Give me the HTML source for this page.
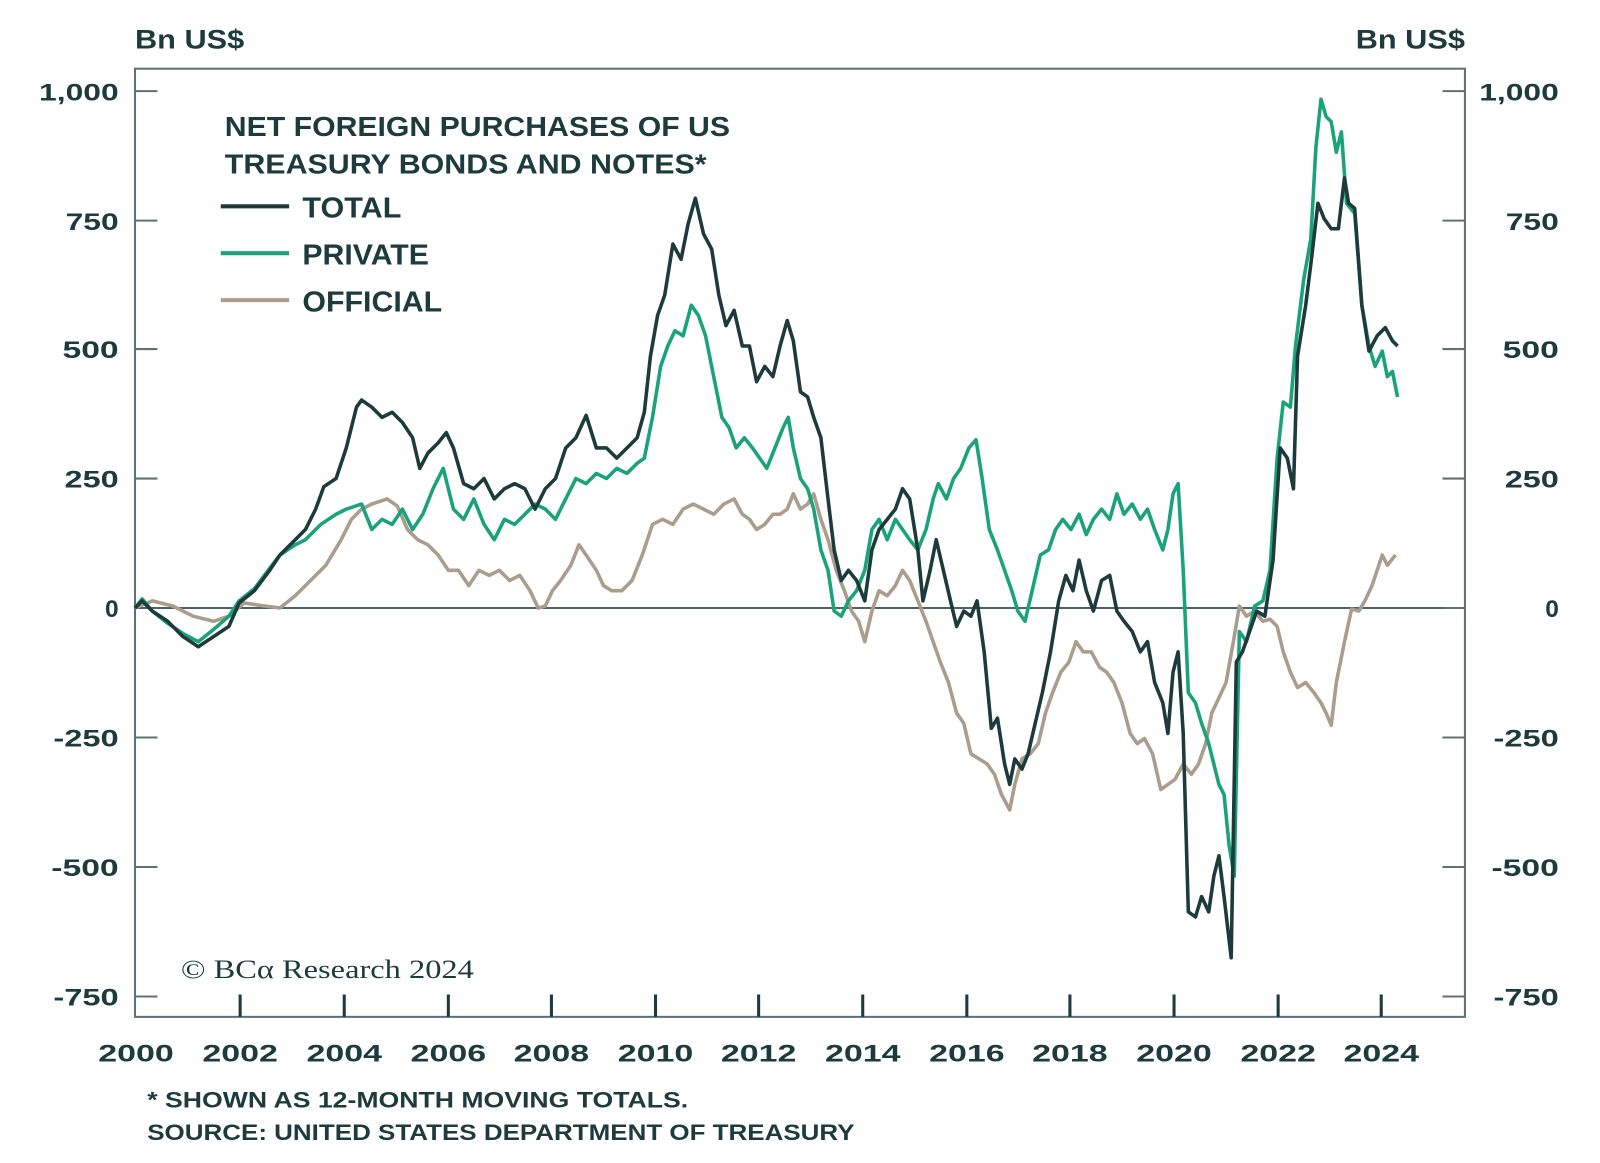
<!DOCTYPE html>
<html><head><meta charset="utf-8"><style>
html,body{margin:0;padding:0;background:#fff;width:1600px;height:1163px;overflow:hidden;}
svg{display:block;}
text{font-family:"Liberation Sans","DejaVu Sans",sans-serif;fill:#1d3b3d;font-weight:bold;}
</style></head><body>
<svg width="1600" height="1163" viewBox="0.74 0.63 1567.6 1140.7" preserveAspectRatio="none" xmlns="http://www.w3.org/2000/svg">
<rect x="0" y="0" width="1600" height="1163" fill="#fff"/>
<text x="133" y="48" font-size="26" textLength="107" lengthAdjust="spacingAndGlyphs">Bn US$</text>
<text x="1329" y="48" font-size="26" textLength="107" lengthAdjust="spacingAndGlyphs">Bn US$</text>
<g stroke="#5d7373" stroke-width="2" fill="none">
<rect x="133" y="68" width="1303" height="930"/>
<line x1="133" y1="597" x2="1436" y2="597" stroke="#4a6364"/>
<path d="M133 90h22M133 217h22M133 343h22M133 470h22M133 724h22M133 851h22M133 978h22M1436 90h-22M1436 217h-22M1436 343h-22M1436 470h-22M1436 597h-22M1436 724h-22M1436 851h-22M1436 978h-22"/>
<path stroke="#1d3b3d" stroke-width="3" d="M236 998v-22M338 998v-22M440 998v-22M541 998v-22M643 998v-22M744 998v-22M846 998v-22M948 998v-22M1049 998v-22M1151 998v-22M1253 998v-22M1354 998v-22"/>
</g>
<g font-size="24" text-anchor="end">
<text x="117" y="99" textLength="78" lengthAdjust="spacingAndGlyphs">1,000</text><text x="117" y="226" textLength="52" lengthAdjust="spacingAndGlyphs">750</text><text x="117" y="352" textLength="55" lengthAdjust="spacingAndGlyphs">500</text><text x="117" y="479" textLength="53" lengthAdjust="spacingAndGlyphs">250</text><text x="117" y="606">0</text><text x="117" y="733" textLength="64" lengthAdjust="spacingAndGlyphs">-250</text><text x="117" y="860" textLength="66" lengthAdjust="spacingAndGlyphs">-500</text><text x="117" y="987" textLength="64" lengthAdjust="spacingAndGlyphs">-750</text>
</g>
<g font-size="24" text-anchor="end">
<text x="1528" y="99" textLength="78" lengthAdjust="spacingAndGlyphs">1,000</text><text x="1528" y="226" textLength="52" lengthAdjust="spacingAndGlyphs">750</text><text x="1528" y="352" textLength="55" lengthAdjust="spacingAndGlyphs">500</text><text x="1528" y="479" textLength="53" lengthAdjust="spacingAndGlyphs">250</text><text x="1528" y="606">0</text><text x="1528" y="733" textLength="64" lengthAdjust="spacingAndGlyphs">-250</text><text x="1528" y="860" textLength="66" lengthAdjust="spacingAndGlyphs">-500</text><text x="1528" y="987" textLength="64" lengthAdjust="spacingAndGlyphs">-750</text>
</g>
<g font-size="24" text-anchor="middle">
<text x="134" y="1042" textLength="74" lengthAdjust="spacingAndGlyphs">2000</text><text x="236" y="1042" textLength="74" lengthAdjust="spacingAndGlyphs">2002</text><text x="338" y="1042" textLength="74" lengthAdjust="spacingAndGlyphs">2004</text><text x="440" y="1042" textLength="74" lengthAdjust="spacingAndGlyphs">2006</text><text x="541" y="1042" textLength="74" lengthAdjust="spacingAndGlyphs">2008</text><text x="643" y="1042" textLength="74" lengthAdjust="spacingAndGlyphs">2010</text><text x="744" y="1042" textLength="74" lengthAdjust="spacingAndGlyphs">2012</text><text x="846" y="1042" textLength="74" lengthAdjust="spacingAndGlyphs">2014</text><text x="948" y="1042" textLength="74" lengthAdjust="spacingAndGlyphs">2016</text><text x="1049" y="1042" textLength="74" lengthAdjust="spacingAndGlyphs">2018</text><text x="1151" y="1042" textLength="74" lengthAdjust="spacingAndGlyphs">2020</text><text x="1253" y="1042" textLength="74" lengthAdjust="spacingAndGlyphs">2022</text><text x="1354" y="1042" textLength="74" lengthAdjust="spacingAndGlyphs">2024</text>
</g>
<text x="145" y="1087" font-size="22" textLength="530" lengthAdjust="spacingAndGlyphs">* SHOWN AS 12-MONTH MOVING TOTALS.</text>
<text x="145" y="1119" font-size="22" textLength="693" lengthAdjust="spacingAndGlyphs">SOURCE: UNITED STATES DEPARTMENT OF TREASURY</text>
<text x="178" y="960" font-size="26" textLength="287" lengthAdjust="spacingAndGlyphs" style="font-family:'Liberation Serif',serif;font-weight:normal">© BCα Research 2024</text>
<text x="221" y="134" font-size="27" textLength="495" lengthAdjust="spacingAndGlyphs">NET FOREIGN PURCHASES OF US</text>
<text x="221" y="171" font-size="27" textLength="472" lengthAdjust="spacingAndGlyphs">TREASURY BONDS AND NOTES*</text>
<line x1="217" y1="203" x2="284" y2="203" stroke="#1d3b3d" stroke-width="4"/>
<line x1="217" y1="249" x2="284" y2="249" stroke="#1aa37a" stroke-width="4"/>
<line x1="217" y1="295" x2="284" y2="295" stroke="#ab9c8c" stroke-width="4"/>
<text x="297" y="214" font-size="28" textLength="97" lengthAdjust="spacingAndGlyphs">TOTAL</text>
<text x="297" y="260" font-size="28" textLength="124" lengthAdjust="spacingAndGlyphs">PRIVATE</text>
<text x="297" y="306" font-size="28" textLength="137" lengthAdjust="spacingAndGlyphs">OFFICIAL</text>
<g fill="none" stroke-width="3.5" stroke-linejoin="round">
<polyline stroke="#ab9c8c" points="133,597 150,590 170,595 190,605 210,610 225,605 240,592 260,595 275,597 290,585 305,570 320,555 335,530 345,510 355,500 365,495 380,490 390,497 400,520 410,530 420,535 430,545 440,560 450,560 460,575 470,560 480,565 490,560 500,570 510,565 520,580 528,597 535,595 542,580 550,570 560,555 568,535 575,545 585,560 592,575 600,580 610,580 620,570 630,545 640,515 650,510 660,515 670,500 680,495 690,500 700,505 710,495 720,490 728,505 735,510 742,520 750,515 758,505 765,505 772,500 778,485 785,500 792,495 798,485 805,510 812,530 820,560 828,580 835,600 842,610 848,630 855,600 862,580 870,585 878,575 885,560 892,570 900,590 908,610 915,630 922,650 930,670 938,700 945,710 952,740 960,745 968,750 975,760 982,780 990,795 995,770 1002,745 1010,740 1018,730 1025,700 1032,680 1040,660 1048,650 1055,630 1062,640 1070,640 1078,655 1085,660 1092,670 1100,690 1108,720 1115,730 1122,725 1130,740 1138,775 1145,770 1152,765 1160,750 1168,760 1175,750 1182,730 1188,700 1195,685 1202,670 1210,625 1215,595 1222,605 1230,600 1238,610 1245,608 1252,615 1258,640 1265,660 1272,675 1280,670 1288,680 1295,690 1300,700 1305,712 1310,670 1318,630 1325,598 1332,600 1338,590 1345,575 1350,560 1355,545 1360,555 1368,545"/>
<polyline stroke="#1aa37a" points="133,597 140,588 150,600 165,612 180,622 195,630 210,618 225,605 235,590 250,578 265,558 275,545 290,535 300,530 315,515 330,505 340,500 355,495 365,520 375,510 385,515 395,500 405,520 415,505 425,480 435,460 445,500 455,510 465,490 475,515 485,530 495,510 505,515 515,505 525,495 535,500 545,510 555,490 565,470 575,475 585,465 595,470 605,460 615,465 625,455 632,450 640,410 648,360 655,340 662,325 670,330 678,300 685,310 692,330 700,370 708,410 715,420 722,440 730,430 738,440 745,450 752,460 760,440 768,420 773,410 778,440 785,470 792,480 798,500 805,540 812,560 818,600 825,605 832,590 840,580 848,560 855,520 862,510 870,530 878,510 885,520 892,530 900,540 908,520 915,490 920,475 928,490 935,470 942,460 950,440 957,432 963,470 970,520 978,540 985,560 992,580 998,600 1005,610 1012,580 1020,545 1028,540 1035,520 1042,510 1050,520 1058,505 1065,525 1072,510 1080,500 1088,510 1095,485 1102,505 1110,495 1118,510 1125,500 1132,520 1140,540 1145,520 1150,485 1155,475 1160,560 1165,680 1172,690 1178,710 1185,730 1190,750 1195,770 1200,780 1205,830 1210,860 1215,620 1222,630 1230,595 1238,590 1245,560 1252,450 1258,395 1265,400 1270,340 1278,275 1285,235 1290,145 1295,98 1300,115 1305,120 1310,150 1315,130 1320,200 1328,210 1335,300 1342,340 1348,360 1355,345 1360,370 1365,365 1370,390"/>
<polyline stroke="#1d3b3d" points="133,597 140,590 150,600 165,610 180,625 195,635 210,625 225,615 235,592 250,580 265,560 275,545 290,530 300,520 310,500 318,478 330,470 340,440 350,400 355,393 365,400 375,410 385,405 395,415 405,430 412,460 420,445 430,435 438,425 445,440 455,475 465,480 475,470 485,490 495,480 505,475 515,480 525,500 535,480 545,470 555,440 565,430 575,408 585,440 595,440 605,450 615,440 625,430 632,405 638,350 645,310 652,290 660,240 668,255 675,220 682,195 690,230 698,245 705,290 712,320 720,305 728,340 735,340 742,375 750,360 758,370 765,340 772,315 778,335 785,385 792,390 798,410 805,430 812,490 818,540 825,570 832,560 840,570 848,590 855,540 862,520 870,510 878,500 885,480 892,490 900,540 905,590 912,560 918,530 925,560 932,590 938,615 945,600 952,605 958,590 965,640 972,715 978,705 985,750 990,770 995,745 1002,755 1008,740 1015,710 1022,680 1030,640 1038,590 1045,565 1052,580 1058,550 1065,580 1072,600 1080,570 1088,565 1095,600 1102,610 1110,620 1118,640 1125,630 1132,670 1140,690 1145,720 1150,660 1155,640 1160,720 1165,895 1172,900 1178,880 1185,895 1190,860 1195,840 1200,880 1207,940 1212,650 1218,640 1225,620 1232,600 1240,605 1248,550 1255,440 1262,450 1268,480 1272,350 1280,300 1285,260 1292,200 1298,215 1305,225 1312,225 1318,175 1322,200 1328,205 1335,300 1342,345 1350,330 1358,322 1365,335 1370,340"/>
</g>
</svg>
</body></html>
